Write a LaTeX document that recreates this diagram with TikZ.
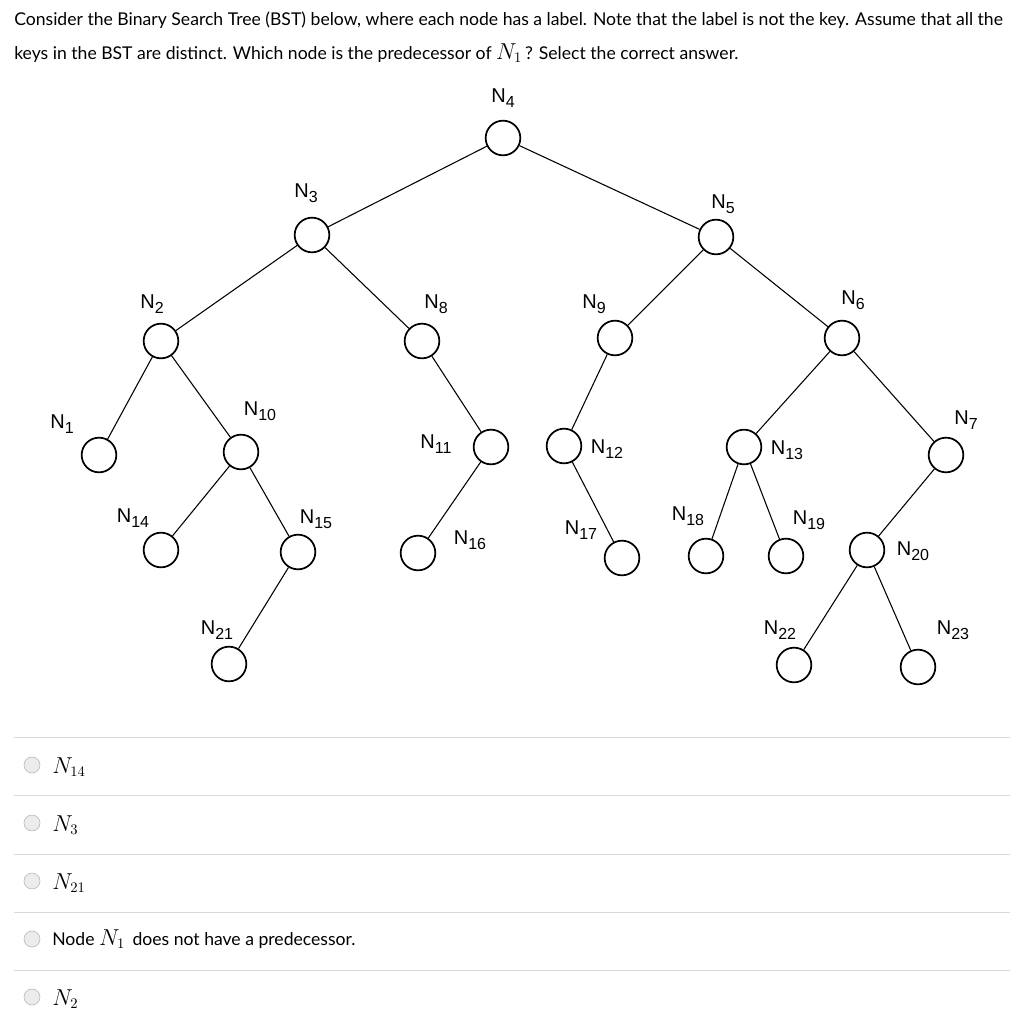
\documentclass[tikz,border=0pt]{standalone}
\usepackage{fontspec}
\setmainfont{Lato}
\newfontfamily\lab{Liberation Sans}
\newcommand{\NL}[1]{{\lab\fontsize{15}{15}\selectfont N\raisebox{-0.28em}{\fontsize{12}{12}\selectfont #1}}}
\newcommand{\MN}[1]{{\fontsize{16}{16}\selectfont$N_{#1}$}}
\begin{document}
\begin{tikzpicture}[x=0.75pt,y=-0.75pt,
  tn/.style={circle,draw,line width=1.3pt,minimum size=26pt,inner sep=0pt},
  ed/.style={line width=0.8pt},
  lb/.style={inner sep=0pt},
  sep/.style={draw=gray!30,line width=0.6pt},
  rb/.style={circle,draw=gray!60,fill=gray!15,minimum size=12pt,inner sep=0pt},
  opt/.style={anchor=west,inner sep=0pt,font=\fontsize{13.2}{16}\selectfont}]
\useasboundingbox (0,0) rectangle (1019,1024);
\node[anchor=west,inner sep=0pt,font=\fontsize{13.2}{15}\selectfont] (q1) at (14,20) {Consider the Binary Search Tree (BST) below, where each node has a label. Note that the label is not the key. Assume that all the};
\node[anchor=west,inner sep=0pt,font=\fontsize{13.2}{15}\selectfont] (q2) at (14,53) {keys in the BST are distinct. Which node is the predecessor of \MN{1}\,? Select the correct answer.};
\foreach \n/\x/\y in {4/503/138,3/312/235,5/716/237,2/161/341,8/422/341,9/615/338,6/842/338,1/99/455,10/241/452,11/491/447,12/564/446,13/744/447,7/946/455,14/161/550,15/298/552,16/418/553,17/622/558,18/706/556,19/786/556,20/867/550,21/229/664,22/794/665,23/918/667}
  \node[tn] (n\n) at (\x,\y) {};
\foreach \a/\b in {4/3,4/5,3/2,3/8,5/9,5/6,2/1,2/10,8/11,9/12,6/13,6/7,10/14,10/15,11/16,12/17,13/18,13/19,7/20,15/21,20/22,20/23}
  \draw[ed] (n\a) -- (n\b);
\foreach \n/\x/\y in {4/503/98,3/306/193,5/723/204,2/152/304,8/436/304,9/594/304,6/853/300,1/62/424,10/260/411,7/966/420,11/436/444,12/607/449,13/787/450,14/133/518,15/316/519,16/470/540,17/581/530,18/688/516,19/809/520,20/913/551,21/217/630,22/780/630,23/953/630}
  \node[lb] (l\n) at (\x,\y) {\NL{\n}};
\foreach \y in {737,795,854,912,970} \draw[sep] (14,\y) -- (1010,\y);
\node[rb] (r1) at (32,765) {}; \node[opt] (o1) at (52,767) {\MN{14}};
\node[rb] (r2) at (32,823) {}; \node[opt] (o2) at (52,825) {\MN{3}};
\node[rb] (r3) at (32,881) {}; \node[opt] (o3) at (52,883) {\MN{21}};
\node[rb] (r4) at (32,939) {}; \node[opt] (o4) at (52,939) {Node \MN{1}\, does not have a predecessor.};
\node[rb] (r5) at (32,997) {}; \node[opt] (o5) at (52,999) {\MN{2}};
\end{tikzpicture}
\end{document}
